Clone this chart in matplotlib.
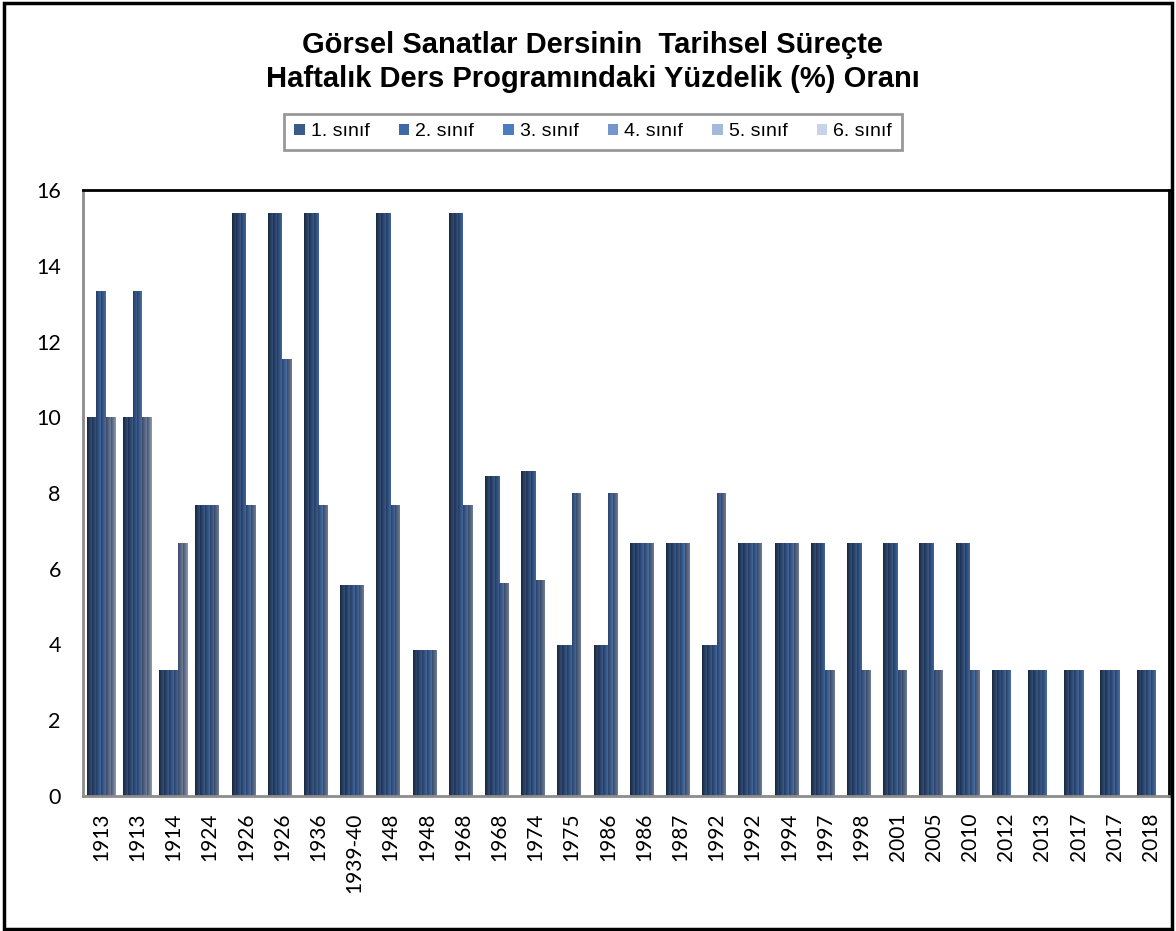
import numpy as np
import matplotlib
matplotlib.use('Agg')
import matplotlib.pyplot as plt
from matplotlib.colors import LinearSegmentedColormap
from matplotlib.patches import Patch, Rectangle

# data
years = ['1913', '1913', '1914', '1924', '1926', '1926', '1936', '1939-40', '1948', '1948',
         '1968', '1968', '1974', '1975', '1986', '1986', '1987', '1992', '1992', '1994',
         '1997', '1998', '2001', '2005', '2010', '2012', '2013', '2017', '2017', '2018']
series_names = ['1. sınıf', '2. sınıf', '3. sınıf', '4. sınıf', '5. sınıf', '6. sınıf']

sinif1 = [10, 10, 3.33, 7.69, 15.38, 15.38, 15.38, 5.56, 15.38, 3.85, 15.38, 8.45, 8.57, 4, 4,
          6.67, 6.67, 4, 6.67, 6.67, 6.67, 6.67, 6.67, 6.67, 6.67, 3.33, 3.33, 3.33, 3.33, 3.33]
sinif2 = [10, 10, 3.33, 7.69, 15.38, 15.38, 15.38, 5.56, 15.38, 3.85, 15.38, 8.45, 8.57, 4, 4,
          6.67, 6.67, 4, 6.67, 6.67, 6.67, 6.67, 6.67, 6.67, 6.67, 3.33, 3.33, 3.33, 3.33, 3.33]
sinif3 = [13.33, 13.33, 3.33, 7.69, 15.38, 15.38, 15.38, 5.56, 15.38, 3.85, 15.38, 8.45, 8.57, 4, 4,
          6.67, 6.67, 4, 6.67, 6.67, 6.67, 6.67, 6.67, 6.67, 6.67, 3.33, 3.33, 3.33, 3.33, 3.33]
sinif4 = [13.33, 13.33, 3.33, 7.69, 7.69, 11.54, 7.69, 5.56, 7.69, 3.85, 7.69, 5.63, 5.71, 8, 8,
          6.67, 6.67, 8, 6.67, 6.67, 3.33, 3.33, 3.33, 3.33, 3.33, 3.33, 3.33, 3.33, 3.33, 3.33]
sinif5 = [10, 10, 6.67, 7.69, 7.69, 11.54, 7.69, 5.56, 7.69, 3.85, 7.69, 5.63, 5.71, 8, 8,
          6.67, 6.67, 8, 6.67, 6.67, 3.33, 3.33, 3.33, 3.33, 3.33, 0, 0, 0, 0, 0]
sinif6 = [10, 10, 6.67, 0, 0, 0, 0, 0, 0, 0, 0, 0, 0, 0, 0,
          0, 0, 0, 0, 0, 0, 0, 0, 0, 0, 0, 0, 0, 0, 0]

all_series = [sinif1, sinif2, sinif3, sinif4, sinif5, sinif6]

# legend swatch colours and bar gradient ends (dark -> light)
legend_colors = ['#3a5b88', '#3e68a6', '#4a7dc0', '#7396cc', '#a5b9dc', '#c7d3ea']
bar_grad = [('#18263b', '#34507a'), ('#1e3152', '#3a5a88'), ('#233b62', '#42689c'),
            ('#2a4268', '#4a70a4'), ('#3a4a66', '#6e7d98'), ('#465470', '#909cb0')]

fig = plt.figure(figsize=(11.76, 9.31), dpi=100)
ax = fig.add_axes([83 / 1176, 135 / 931, (1169 - 83) / 1176, (796 - 190) / 931])

x = np.arange(len(years))
n = len(all_series)
width = 0.79 / n
grad = np.linspace(0, 1, 32).reshape(1, -1)

for i, vals in enumerate(all_series):
    offs = (i - (n - 1) / 2) * width
    bars = ax.bar(x + offs, vals, width, color='none', edgecolor='none', zorder=2)
    cmap = LinearSegmentedColormap.from_list('g%d' % i, [bar_grad[i][0], bar_grad[i][1]])
    for rect in bars:
        h = rect.get_height()
        if h <= 0:
            continue
        x0 = rect.get_x()
        w = rect.get_width()
        im = ax.imshow(grad, cmap=cmap, extent=[x0, x0 + w, 0, h], aspect='auto',
                       interpolation='bilinear', zorder=2)
        im.set_clip_path(rect)

ax.set_xlim(-0.5, len(years) - 0.5)
ax.set_ylim(0, 16)
ax.set_yticks(np.arange(0, 17, 2))
ax.set_xticks(x)
ax.set_xticklabels(years, rotation=90, fontsize=15, family='Lato')
for lbl in ax.get_yticklabels():
    lbl.set_fontsize(15.5)
    lbl.set_family('Lato')
ax.tick_params(length=0, pad=12)
ax.tick_params(axis='y', pad=16)

for side in ['top', 'right']:
    ax.spines[side].set_color('black')
    ax.spines[side].set_linewidth(2)
for side in ['left', 'bottom']:
    ax.spines[side].set_color('#8c8c8c')
    ax.spines[side].set_linewidth(2)

# title
fig.text(593 / 1176, 1 - 45 / 931, 'Görsel Sanatlar Dersinin  Tarihsel Süreçte',
         ha='center', va='center', fontsize=21, fontweight='bold', family='Liberation Sans')
fig.text(593 / 1176, 1 - 79 / 931, 'Haftalık Ders Programındaki Yüzdelik (%) Oranı',
         ha='center', va='center', fontsize=21, fontweight='bold', family='Liberation Sans')

handles = [Patch(facecolor=c, edgecolor='none') for c in legend_colors]
leg = fig.legend(handles, series_names, loc='center', bbox_to_anchor=(593 / 1176, 1 - 132 / 931),
                 ncol=6, frameon=True, fancybox=False, handlelength=0.55, handleheight=0.55,
                 handletextpad=0.3, columnspacing=1.5, borderpad=0.5,
                 prop={'family': 'Liberation Sans', 'size': 14})
leg.get_frame().set_edgecolor('#7f7f7f')
leg.get_frame().set_linewidth(2)

# outer chart border
fig.patches.append(Rectangle((4 / 1176, 2 / 931), 1 - 8 / 1176, 1 - 5 / 931,
                             transform=fig.transFigure, fill=False, edgecolor='black',
                             linewidth=2.5))

fig.savefig('out.png', dpi=100)
